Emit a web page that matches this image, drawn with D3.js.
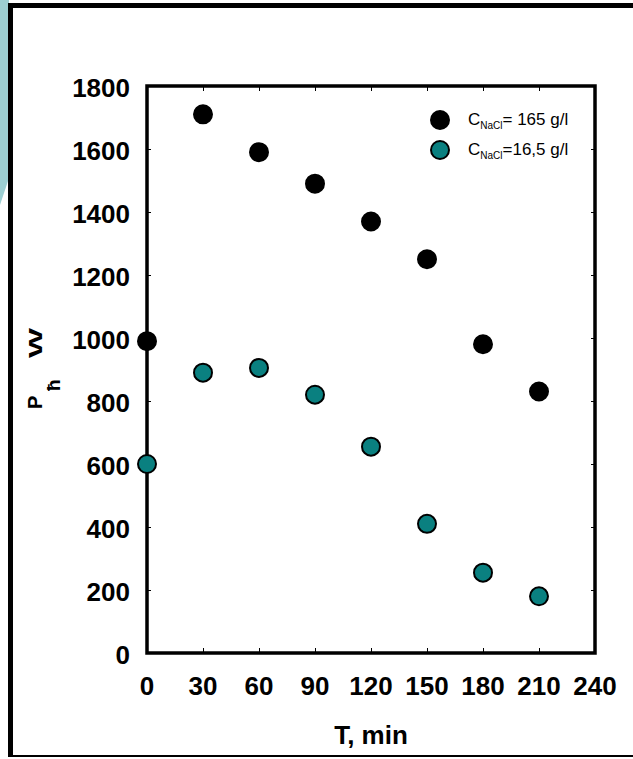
<!DOCTYPE html>
<html>
<head>
<meta charset="utf-8">
<script src="https://cdn.jsdelivr.net/npm/d3@7"></script>
<style>
  body { margin: 0; background: #fff; }
  text { font-family: "Liberation Sans", Arial, sans-serif; }
</style>
</head>
<body>
<svg id="chart" width="633" height="759"></svg>
<script>
// data
var times = [0, 30, 60, 90, 120, 150, 180, 210];
var power165 = [990, 1710, 1590, 1490, 1370, 1250, 980, 830];
var power16 = [600, 890, 905, 820, 655, 410, 255, 180];
var xTicks = [0, 30, 60, 90, 120, 150, 180, 210, 240];
var yTicks = [0, 200, 400, 600, 800, 1000, 1200, 1400, 1600, 1800];
var legendLabels = [["= 165 g/l", "#000"], ["=16,5 g/l", "#0a8080"]];

var margin = {top: 86, left: 147, right: 38, bottom: 106};
var width = 633 - margin.left - margin.right;
var height = 759 - margin.top - margin.bottom;

var svg = d3.select('#chart');

// decorative background bits
svg.append('polygon')
    .attr('points', '0,0 9,0 9,178 0,205')
    .attr('fill', '#9dcfd2');
svg.append('line').attr('x1', 10.5).attr('y1', 3).attr('x2', 10.5).attr('y2', 757)
    .attr('stroke', '#000').attr('stroke-width', 5);
svg.append('line').attr('x1', 8).attr('y1', 5.5).attr('x2', 640).attr('y2', 5.5)
    .attr('stroke', '#000').attr('stroke-width', 5);
svg.append('line').attr('x1', 8).attr('y1', 756).attr('x2', 640).attr('y2', 756)
    .attr('stroke', '#000').attr('stroke-width', 2);

var x = d3.scaleLinear().domain([0, 240]).range([0, width]);
var y = d3.scaleLinear().domain([0, 1800]).range([height, 0]);

var g = svg.append('g')
    .attr('transform', 'translate(' + margin.left + ',' + margin.top + ')');

// inner ticks on all four sides
g.append('g').attr('transform', 'translate(0,' + height + ')')
    .call(d3.axisTop(x).tickValues(xTicks).tickSize(5).tickFormat(''));
g.append('g')
    .call(d3.axisBottom(x).tickValues(xTicks).tickSize(5).tickFormat(''));
g.append('g')
    .call(d3.axisRight(y).tickValues(yTicks).tickSize(4).tickFormat(''));
g.append('g').attr('transform', 'translate(' + width + ',0)')
    .call(d3.axisLeft(y).tickValues(yTicks).tickSize(4).tickFormat(''));
g.selectAll('.domain').remove();
g.selectAll('.tick line').attr('stroke', '#000').attr('stroke-width', 1);

// frame
g.append('rect')
    .attr('width', width).attr('height', height)
    .attr('fill', 'none').attr('stroke', '#000').attr('stroke-width', 3.5);

// tick labels
g.selectAll('.xlab').data(xTicks).enter().append('text')
    .attr('x', function(d) { return x(d); })
    .attr('y', height + 42)
    .attr('text-anchor', 'middle')
    .attr('font-size', 26).attr('font-weight', 'bold')
    .text(function(d) { return d; });
g.selectAll('.ylab').data(yTicks).enter().append('text')
    .attr('x', -17)
    .attr('y', function(d) { return y(d) + 11; })
    .attr('text-anchor', 'end')
    .attr('font-size', 26).attr('font-weight', 'bold')
    .text(function(d) { return d; });

// axis titles
g.append('text')
    .attr('x', x(120)).attr('y', height + 91)
    .attr('text-anchor', 'middle')
    .attr('font-size', 26).attr('font-weight', 'bold')
    .text('T, min');
svg.append('text')
    .attr('transform', 'translate(42,409) rotate(-90)')
    .attr('font-size', 20).attr('font-weight', 'bold')
    .text('P');
svg.append('text')
    .attr('transform', 'translate(60,391) rotate(-90)')
    .attr('font-size', 19).attr('font-weight', 'bold')
    .text('ħ');
svg.append('text')
    .attr('transform', 'translate(42,358) rotate(-90)')
    .attr('font-size', 19).attr('font-weight', 'bold')
    .attr('textLength', 30).attr('lengthAdjust', 'spacingAndGlyphs')
    .text('W');

// points
var series = [[power16, '#0a8080'], [power165, '#000']];
series.forEach(function(s) {
    g.append('g').selectAll('circle')
        .data(times)
        .enter().append('circle')
        .attr('cx', function(d) { return x(d); })
        .attr('cy', function(d, i) { return y(s[0][i]); })
        .attr('r', 9)
        .attr('fill', s[1])
        .attr('stroke', '#000')
        .attr('stroke-width', 2);
});

// legend
var leg = svg.append('g').attr('transform', 'translate(440,120)');
legendLabels.forEach(function(l, i) {
    leg.append('circle').attr('cx', 0).attr('cy', i * 30).attr('r', 9)
        .attr('fill', l[1]).attr('stroke', '#000').attr('stroke-width', 2);
    var t = leg.append('text').attr('x', 28).attr('y', i * 30 + 5).attr('font-size', 17);
    t.append('tspan').text('C');
    t.append('tspan').attr('font-size', 10).attr('dy', 4).text('NaCl');
    t.append('tspan').attr('dy', -4).text(l[0]);
});
</script>
</body>
</html>
